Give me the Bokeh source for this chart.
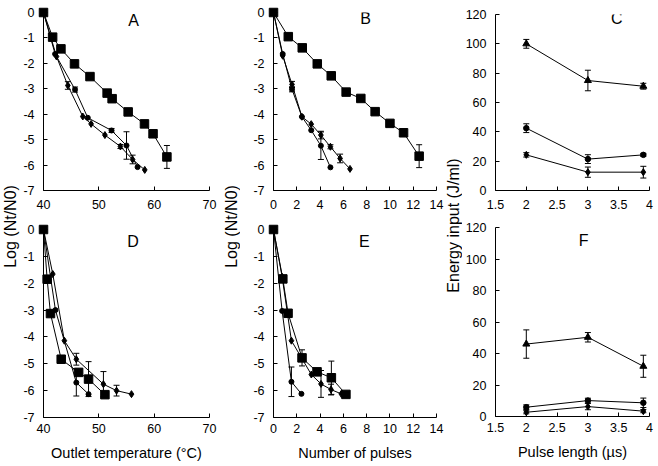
import math
from bokeh.plotting import figure
from bokeh.layouts import row, column
from bokeh.models import Range1d, FixedTicker, Label, Whisker, ColumnDataSource, TeeHead
from bokeh.embed import file_html
from bokeh.resources import INLINE

FONT = "Liberation Sans"

# ---------------- data ----------------
# Panel A: log reduction vs outlet temperature
A_sq_x = [40, 41.65, 43.15, 45.6, 48.4, 51.5, 52.4, 55.3, 58.25, 59.8, 62.3]
A_sq_y = [0, -0.97, -1.43, -2.02, -2.52, -3.17, -3.39, -3.91, -4.38, -4.77, -5.68]
A_sq_e = [0, 0, 0, 0, 0, 0, 0, 0, 0, 0, 0.45]
A_ci_x = [40, 42.1, 45.7, 48.0, 52.3, 55.0, 57.0]
A_ci_y = [0, -1.63, -3.03, -4.14, -4.64, -5.23, -6.08]
A_ci_e = [0, 0, 0.1, 0, 0.08, 0.54, 0]
A_di_x = [40, 42.35, 44.4, 47.1, 48.6, 51.1, 53.9, 56.1, 58.3]
A_di_y = [0, -1.73, -2.87, -4.09, -4.38, -4.82, -5.27, -5.78, -6.19]
A_di_e = [0, 0, 0.15, 0, 0, 0, 0.08, 0.17, 0]

# Panel B: log reduction vs number of pulses
B_sq_x = [0, 1.27, 2.47, 3.76, 4.96, 6.24, 7.5, 8.73, 10.0, 11.17, 12.51]
B_sq_y = [0, -0.95, -1.39, -2.02, -2.49, -3.13, -3.38, -3.9, -4.36, -4.73, -5.65]
B_sq_e = [0, 0, 0, 0, 0, 0, 0, 0, 0, 0, 0.45]
B_ci_x = [0, 0.79, 1.59, 2.44, 3.24, 4.07, 4.89]
B_ci_y = [0, -1.63, -3.02, -4.1, -4.63, -5.24, -6.09]
B_ci_e = [0, 0, 0.1, 0, 0, 0.54, 0]
B_di_x = [0, 0.79, 1.59, 2.44, 3.24, 4.07, 4.89, 5.72, 6.57]
B_di_y = [0, -1.7, -2.83, -4.1, -4.39, -4.82, -5.28, -5.74, -6.15]
B_di_e = [0, 0, 0.12, 0, 0, 0.15, 0.08, 0.17, 0]

# Panel C: energy input vs pulse length
C_x = [2, 3, 3.9]
C_tr_y = [100, 75, 71.1]
C_tr_e = [3, 7, 2]
C_ci_y = [42.5, 21.4, 24.3]
C_ci_e = [3, 3, 1]
C_di_y = [24.3, 12.5, 12.5]
C_di_e = [1.5, 3.5, 4]

# Panel D: log reduction vs outlet temperature
D_sq_x = [40, 40.66, 41.26, 43.2, 46.35, 48.14, 51.1]
D_sq_y = [0, -1.85, -3.13, -4.83, -5.32, -5.57, -6.15]
D_sq_e = [0, 0, 0, 0, 0, 0.65, 0]
D_ci_x = [40, 42.16, 45.93, 48.14]
D_ci_y = [0, -3.0, -5.7, -6.13]
D_ci_e = [0, 0, 0.5, 0]
D_di_x = [40, 41.68, 43.77, 45.93, 50.83, 53.2, 55.9]
D_di_y = [0, -1.66, -4.14, -4.83, -5.76, -6.0, -6.13]
D_di_e = [0, 0, 0, 0.22, 0.47, 0.2, 0]

# Panel E: log reduction vs number of pulses
E_sq_x = [0, 0.8, 1.25, 2.45, 3.74, 4.97, 6.22]
E_sq_y = [0, -1.84, -3.12, -4.78, -5.3, -5.52, -6.14]
E_sq_e = [0, 0, 0, 0.3, 0, 0.62, 0]
E_ci_x = [0, 0.74, 1.54, 2.4]
E_ci_y = [0, -3.03, -5.67, -6.12]
E_ci_e = [0, 0, 0.55, 0]
E_di_x = [0, 0.74, 1.54, 3.25, 4.08, 4.94, 5.82]
E_di_y = [0, -1.76, -4.14, -5.4, -5.75, -5.96, -6.12]
E_di_e = [0, 0, 0, 0, 0.5, 0.2, 0]

# Panel F: energy input vs pulse length
F_x = [2, 3, 3.9]
F_tr_y = [46, 50.3, 31.9]
F_tr_e = [9, 3, 7]
F_ci_y = [5.9, 10.1, 8.7]
F_ci_e = [1.5, 1.5, 3]
F_di_y = [2.7, 6.3, 3.4]
F_di_e = [1, 2, 1]

# ticks
temp_ticks = [40, 50, 60, 70]
temp_labels = ["40", "50", "60", "70"]
pulse_ticks = [0, 2, 4, 6, 8, 10, 12, 14]
pulse_labels = ["0", "2", "4", "6", "8", "10", "12", "14"]
len_ticks = [1.5, 2, 2.5, 3, 3.5, 4]
len_labels = ["1.5", "2", "2.5", "3", "3.5", "4"]
log_ticks = [0, -1, -2, -3, -4, -5, -6, -7]
log_labels = ["0", "-1", "-2", "-3", "-4", "-5", "-6", "-7"]
en_ticks = [0, 20, 40, 60, 80, 100, 120]
en_labels = ["0", "20", "40", "60", "80", "100", "120"]

X_TEMP = "Outlet temperature (°C)"
X_PULSE = "Number of pulses"
X_LEN = "Pulse length (µs)"
Y_LOG = "Log (Nt/N0)"
Y_EN = "Energy input (J/ml)"


def style_axis(ax, ticks, labels, standoff):
    ax.ticker = FixedTicker(ticks=ticks)
    ax.major_label_overrides = {float(t): l for t, l in zip(ticks, labels)}
    ax.axis_line_color = "black"
    ax.axis_line_width = 1
    ax.major_tick_line_color = "black"
    ax.major_tick_in = 4
    ax.major_tick_out = 0
    ax.minor_tick_line_color = None
    ax.major_label_text_font = FONT
    ax.major_label_text_font_size = "12.5px"
    ax.major_label_text_color = "black"
    ax.major_label_standoff = standoff
    ax.axis_label_text_font = FONT
    ax.axis_label_text_font_size = "14.5px"
    ax.axis_label_text_font_style = "normal"
    ax.axis_label_text_color = "black"
    ax.axis_label_standoff = 9


def panel(w, h, xr, yr, xt, xl, yt, yl, bl, br, bt, bb, xstand, letter, lx, ly, xlabel=None):
    p = figure(width=w, height=h, x_range=Range1d(*xr), y_range=Range1d(*yr),
               output_backend="svg", toolbar_location=None,
               min_border_left=bl, min_border_right=br,
               min_border_top=bt, min_border_bottom=bb)
    p.outline_line_color = None
    p.grid.visible = False
    p.background_fill_color = "white"
    p.border_fill_color = "white"
    style_axis(p.xaxis[0], xt, xl, xstand)
    style_axis(p.yaxis[0], yt, yl, 9)
    if xlabel:
        p.xaxis[0].axis_label = xlabel
    p.add_layout(Label(x=lx, y=ly, text=letter, text_font=FONT, text_font_size="16px",
                       text_align="center", text_baseline="alphabetic", text_color="black"))
    return p


def series(p, x, y, e, marker, size):
    p.line(x, y, line_color="black", line_width=1)
    xs = [a for a, b in zip(x, e) if b > 0]
    lo = [c - b for c, b in zip(y, e) if b > 0]
    hi = [c + b for c, b in zip(y, e) if b > 0]
    if xs:
        src = ColumnDataSource(dict(x=xs, lo=lo, hi=hi))
        p.add_layout(Whisker(source=src, base="x", lower="lo", upper="hi", dimension="height",
                             line_color="black", line_width=1,
                             lower_head=TeeHead(size=6, line_color="black", line_width=1),
                             upper_head=TeeHead(size=6, line_color="black", line_width=1)))
    return (x, y, marker, size)


def draw_markers(p, items):
    for x, y, marker, size in items:
        p.scatter(x, y, marker=marker, size=size, fill_color="black", line_color="black",
                  level="overlay")


# ---------------- figures ----------------
W1, W2, W3 = 202, 204, 194
H1, H2 = 220, 244
LW1, LW2, LW3 = 20, 18, 18

pA = panel(W1, H1, (40, 70), (-7, 0), temp_ticks, temp_labels, log_ticks, log_labels,
           21, 13, 12, 30, 9, "A", 56.3, -0.31)
draw_markers(pA, [series(pA, A_ci_x, A_ci_y, A_ci_e, "circle", 5),
                  series(pA, A_di_x, A_di_y, A_di_e, "diamond", 7),
                  series(pA, A_sq_x, A_sq_y, A_sq_e, "square", 8.5)])

pB = panel(W2, H1, (0, 14), (-7, 0), pulse_ticks, pulse_labels, log_ticks, log_labels,
           33, 8, 12, 30, 9, "B", 7.9, -0.25)
draw_markers(pB, [series(pB, B_ci_x, B_ci_y, B_ci_e, "circle", 5),
                  series(pB, B_di_x, B_di_y, B_di_e, "diamond", 7),
                  series(pB, B_sq_x, B_sq_y, B_sq_e, "square", 8.5)])

pC = panel(W3, H1, (1.5, 4), (0, 120), len_ticks, len_labels, en_ticks, en_labels,
           31, 7, 14, 30, 9, "C", 3.47, 117.1)
draw_markers(pC, [series(pC, C_x, C_tr_y, C_tr_e, "triangle", 7),
                  series(pC, C_x, C_ci_y, C_ci_e, "circle", 5.5),
                  series(pC, C_x, C_di_y, C_di_e, "diamond", 7)])

pD = panel(W1, H2, (40, 70), (-7, 0), temp_ticks, temp_labels, log_ticks, log_labels,
           21, 13, 9, 47, 6, "D", 56.2, -0.45, X_TEMP)
draw_markers(pD, [series(pD, D_ci_x, D_ci_y, D_ci_e, "circle", 5),
                  series(pD, D_di_x, D_di_y, D_di_e, "diamond", 7),
                  series(pD, D_sq_x, D_sq_y, D_sq_e, "square", 8.5)])

pE = panel(W2, H2, (0, 14), (-7, 0), pulse_ticks, pulse_labels, log_ticks, log_labels,
           33, 8, 9, 47, 6, "E", 7.8, -0.45, X_PULSE)
draw_markers(pE, [series(pE, E_ci_x, E_ci_y, E_ci_e, "circle", 5),
                  series(pE, E_di_x, E_di_y, E_di_e, "diamond", 7),
                  series(pE, E_sq_x, E_sq_y, E_sq_e, "square", 8.5)])

pF = panel(W3, H2, (1.5, 4), (0, 120), len_ticks, len_labels, en_ticks, en_labels,
           31, 7, 7, 48, 6, "F", 2.93, 111.6, X_LEN)
draw_markers(pF, [series(pF, F_x, F_tr_y, F_tr_e, "triangle", 7),
                  series(pF, F_x, F_ci_y, F_ci_e, "circle", 5.5),
                  series(pF, F_x, F_di_y, F_di_e, "diamond", 7)])


def vlabel(text, w, h, yfrac):
    p = figure(width=w, height=h, x_range=Range1d(0, 1), y_range=Range1d(0, 1),
               output_backend="svg", toolbar_location=None, min_border=0,
               x_axis_location=None, y_axis_location=None)
    p.outline_line_color = None
    p.grid.visible = False
    p.add_layout(Label(x=0.5, y=yfrac, text=text, angle=math.pi / 2, text_font=FONT,
                       text_font_size="16px", text_align="center", text_baseline="middle",
                       text_color="black"))
    return p


L1 = vlabel(Y_LOG, LW1, H1 + H2, 0.513)
L2 = vlabel(Y_LOG, LW2, H1 + H2, 0.513)
L3 = vlabel(Y_EN, LW3, H1 + H2, 0.515)

layout = row(L1, column(pA, pD, spacing=0), L2, column(pB, pE, spacing=0), L3,
             column(pC, pF, spacing=0), spacing=0)

open("out.html", "w").write(file_html(layout, INLINE))
